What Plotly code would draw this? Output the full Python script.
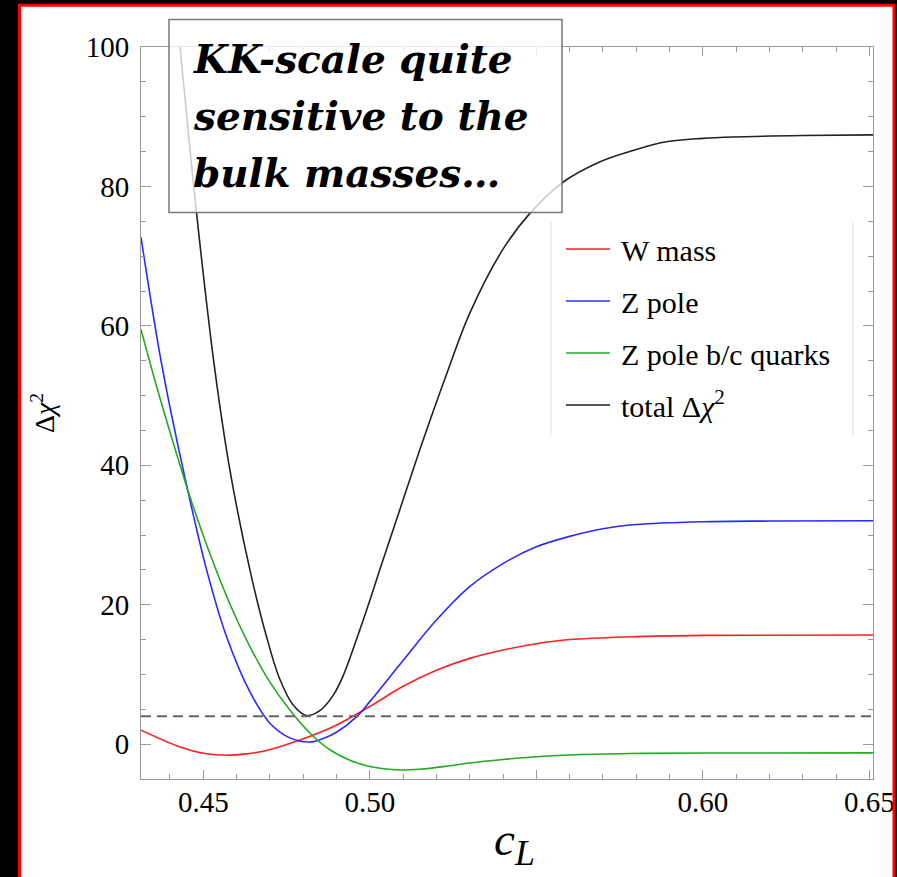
import plotly.graph_objects as go

# ---------------- data ----------------
x_range = [0.4313, 0.6511]
y_range = [-5, 100]
threshold = 4

w_c = [0.4313, 0.443, 0.450, 0.457, 0.463, 0.469, 0.479, 0.489, 0.500, 0.510,
       0.520, 0.530, 0.540, 0.550, 0.560, 0.578, 0.600, 0.6511]
w_v = [2.0, -0.4, -1.3, -1.6, -1.4, -0.9, 0.6, 2.5, 5.4, 8.3,
       10.6, 12.3, 13.5, 14.4, 15.0, 15.4, 15.6, 15.65]

z_c = [0.4313, 0.4375, 0.444, 0.451, 0.457, 0.464, 0.470, 0.476, 0.482, 0.486,
       0.490, 0.496, 0.500, 0.510, 0.520, 0.530, 0.540, 0.550, 0.560, 0.570,
       0.580, 0.600, 0.620, 0.6511]
z_v = [72.7, 54.5, 39.3, 25.0, 15.4, 7.5, 3.0, 0.9, 0.3, 0.8,
       1.7, 3.9, 6.1, 12.0, 17.8, 22.6, 25.9, 28.3, 29.8, 30.9,
       31.5, 31.9, 32.0, 32.05]

b_c = [0.4313, 0.436, 0.441, 0.446, 0.452, 0.458, 0.464, 0.470, 0.476, 0.482,
       0.488, 0.494, 0.500, 0.509, 0.515, 0.524, 0.530, 0.540, 0.550, 0.560,
       0.578, 0.600, 0.6511]
b_v = [59.5, 51.3, 43.2, 35.5, 27.3, 20.1, 14.0, 8.9, 4.9, 1.6,
       -0.8, -2.3, -3.2, -3.7, -3.6, -3.1, -2.7, -2.2, -1.8, -1.55,
       -1.35, -1.27, -1.25]

t_c = [0.443, 0.448, 0.4535, 0.458, 0.464, 0.469, 0.473, 0.477, 0.481, 0.485,
       0.489, 0.492, 0.496, 0.500, 0.503, 0.509, 0.516, 0.523, 0.530, 0.540,
       0.548, 0.558, 0.569, 0.578, 0.589, 0.600, 0.609, 0.630, 0.6511]
t_v = [100.2, 76.1, 53.6, 39.3, 25.0, 15.4, 9.3, 5.6, 4.1, 4.8,
       7.0, 9.8, 15.0, 20.6, 25.0, 33.6, 43.6, 53.0, 61.8, 71.0,
       76.1, 80.6, 83.5, 85.0, 86.4, 86.9, 87.1, 87.3, 87.4]

series_names = ["W mass", "Z pole", "Z pole b/c quarks", "total Δ<i>χ</i><sup>2</sup>"]
series_colors = ["#ff2020", "#2a2aff", "#22aa22", "#222222"]

x_tickvals = [0.45, 0.50, 0.55, 0.60, 0.65]
x_ticktext = ["0.45", "0.50", "", "0.60", "0.65"]
y_tickvals = [0, 20, 40, 60, 80, 100]

note_lines = ["KK-scale quite", "sensitive to the", "bulk masses…"]

# ---------------- layout geometry ----------------
W, H = 897, 877
ML, MR, MT, MB = 141, 24, 47, 98
PW, PH = W - ML - MR, H - MT - MB


def px_x(px):
    return (px - ML) / PW


def px_y(py):
    return (H - MB - py) / PH


fig = go.Figure()
xs = [w_c, z_c, b_c, t_c]
ys = [w_v, z_v, b_v, t_v]
for i, (cx, cy) in enumerate(zip(xs, ys)):
    fig.add_trace(go.Scatter(
        x=cx, y=cy, mode="lines", name="\u2009" + series_names[i],
        line=dict(color=series_colors[i], width=1.6, shape="spline", smoothing=1.0),
        legendgroup=str(i),
    ))

fig.add_trace(go.Scatter(
    x=x_range, y=[threshold, threshold], mode="lines", showlegend=False,
    line=dict(color="#666666", width=2, dash="10px,6px"),
))

axis_common = dict(
    showline=True, linecolor="#9a9a9a", linewidth=1, mirror="ticks",
    ticks="inside", tickcolor="#9a9a9a", tickwidth=1, showgrid=False,
    zeroline=False, automargin=False,
    tickfont=dict(family="Liberation Serif", size=29, color="black"),
)

fig.update_layout(
    width=W, height=H,
    margin=dict(l=ML, r=MR, t=MT, b=MB),
    paper_bgcolor="black", plot_bgcolor="rgba(0,0,0,0)",
    xaxis=dict(
        range=x_range, tickmode="array", tickvals=x_tickvals, ticktext=x_ticktext,
        ticklen=9, ticklabelstandoff=-3,
        minor=dict(dtick=0.01, tick0=0.45, ticks="inside", ticklen=5, tickcolor="#9a9a9a"),
        **axis_common,
    ),
    yaxis=dict(
        range=y_range, tickmode="array", tickvals=y_tickvals,
        ticklen=10, ticklabelstandoff=5,
        minor=dict(dtick=5, tick0=0, ticks="inside", ticklen=5, tickcolor="#9a9a9a"),
        title=dict(text="Δ<i>χ</i><sup>2</sup>", font=dict(family="Liberation Serif", size=28, color="black"), standoff=22),
        **axis_common,
    ),
    legend=dict(
        x=px_x(561), y=px_y(223), xanchor="left", yanchor="top",
        bgcolor="rgba(0,0,0,0)", font=dict(family="Liberation Serif", size=30, color="black"),
        tracegroupgap=10, itemwidth=44, traceorder="grouped",
    ),
    showlegend=True,
)

# white slide panel with red border
fig.add_shape(type="rect", xref="paper", yref="paper", layer="below",
              x0=px_x(19.5), x1=px_x(894), y0=px_y(5.5), y1=px_y(900),
              fillcolor="white", line=dict(width=0))
fig.add_shape(type="rect", xref="paper", yref="paper", layer="above",
              x0=px_x(895.5), x1=px_x(905), y0=px_y(-10), y1=px_y(900),
              fillcolor="black", line=dict(width=0))
fig.add_shape(type="rect", xref="paper", yref="paper", layer="above",
              x0=px_x(19.5), x1=px_x(894), y0=px_y(5.3), y1=px_y(900),
              fillcolor="rgba(0,0,0,0)", line=dict(color="#ff0000", width=3))

# legend frame lines
for lx in (551, 853):
    fig.add_shape(type="line", xref="paper", yref="paper", layer="above",
                  x0=px_x(lx), x1=px_x(lx), y0=px_y(222), y1=px_y(435),
                  line=dict(color="#dddddd", width=1))

# x axis title c_L
fig.add_annotation(
    xref="paper", yref="paper", x=px_x(514), y=px_y(843), xanchor="center", yanchor="middle",
    text="<i>c</i><sub><i><span style=\"font-size:36px\">L</span></i></sub>", showarrow=False,
    font=dict(family="Liberation Serif", size=47, color="black"),
)

# note box
fig.add_shape(type="rect", xref="paper", yref="paper", layer="above",
              x0=px_x(169), x1=px_x(562), y0=px_y(19.5), y1=px_y(212.5),
              fillcolor="rgba(255,255,255,0.78)", line=dict(color="#777777", width=1.5))
for k, line_text in enumerate(note_lines):
    fig.add_annotation(
        xref="paper", yref="paper", x=px_x(191), y=px_y(59 + 57 * k), xanchor="left", yanchor="middle",
        text=line_text, showarrow=False, align="left",
        font=dict(family="DejaVu Serif", size=39, color="black", weight="bold", style="italic"),
    )

fig.write_html("out.html")
